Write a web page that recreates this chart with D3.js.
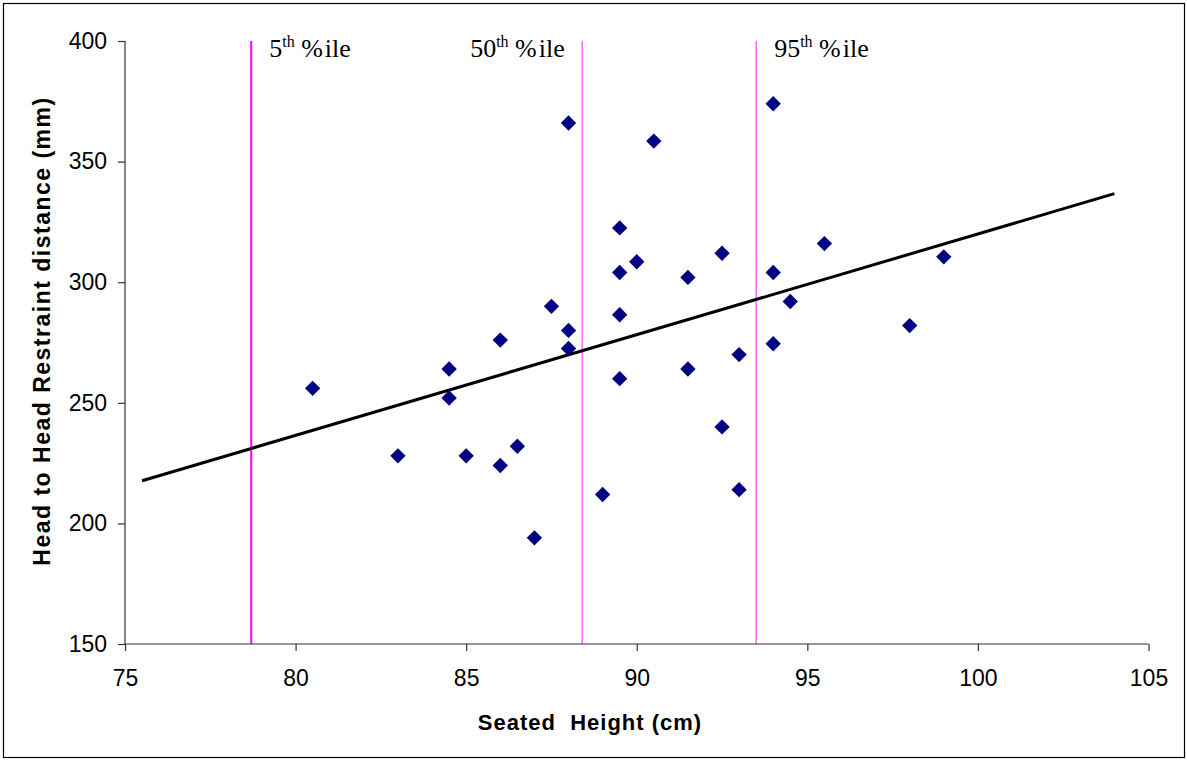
<!DOCTYPE html>
<html>
<head>
<meta charset="utf-8">
<script src="https://cdn.jsdelivr.net/npm/d3@7"></script>
<style>
  body { margin: 0; background: #fff; }
  svg text { font-family: "Liberation Sans", Arial, sans-serif; }
</style>
</head>
<body>
<div id="chart"></div>
<script>
// seated height (cm) vs head to head restraint distance (mm)
var seatedHeight = [80.5, 83, 84.5, 84.5, 85, 86, 86, 86.5, 87, 87.5, 88, 88, 88,
  89, 89.5, 89.5, 89.5, 89.5, 90, 90.5, 91.5, 91.5, 92.5, 92.5, 93, 93,
  94, 94, 94, 94.5, 95.5, 98, 99];
var restraintDist = [256, 228, 264, 252, 228, 276, 224, 232, 194, 290, 366, 280, 272.5,
  212, 322.5, 304, 286.5, 260, 308.5, 358.5, 302, 264, 312, 240, 270, 214,
  374, 304, 274.5, 292, 316, 282, 310.5];

// trend line end points
var trendX = [75.5, 104];
var trendY = [217.7, 336.7];

// percentile markers
var pctNames = ["5", "50", "95"];
var pctValues = [78.7, 88.4, 93.5];

var xTicks = [75, 80, 85, 90, 95, 100, 105];
var yTicks = [150, 200, 250, 300, 350, 400];

var W = 1187, H = 760;
var margin = {top: 41, right: 38, bottom: 116, left: 125};
var width = 1148.5 - margin.left,
    height = 644 - margin.top;

var svg = d3.select("#chart").append("svg")
  .attr("width", W)
  .attr("height", H);

// outer frame
svg.append("rect")
  .attr("x", 3.5).attr("y", 3.5)
  .attr("width", W - 6).attr("height", H - 6)
  .attr("fill", "none")
  .attr("stroke", "#000")
  .attr("stroke-width", 1.2);

var g = svg.append("g")
  .attr("transform", "translate(" + margin.left + "," + margin.top + ")");

var x = d3.scaleLinear().domain([75, 105]).range([0, width]);
var y = d3.scaleLinear().domain([150, 400]).range([height, 0]);

// percentile lines
g.selectAll(".pct")
  .data(pctValues)
  .enter().append("line")
  .attr("x1", function(d) { return x(d); })
  .attr("x2", function(d) { return x(d); })
  .attr("y1", 0)
  .attr("y2", height)
  .attr("stroke", "#ff00ff")
  .attr("stroke-width", function(d, i) { return i == 0 ? 2 : 1.2; })
  .attr("stroke-opacity", function(d, i) { return i == 0 ? 1 : 0.75; });

// percentile labels
var lab = g.selectAll(".pctlab")
  .data(pctNames)
  .enter().append("text")
  .attr("x", function(d, i) { return i == 1 ? x(pctValues[i]) - 112 : x(pctValues[i]) + 18; })
  .attr("y", 16)
  .style("font-family", "'Liberation Serif', 'Times New Roman', serif")
  .style("font-size", "26px")
  .attr("fill", "#000");
lab.append("tspan").text(function(d) { return d; });
lab.append("tspan").attr("dy", -10).style("font-size", "16px").text("th");
lab.append("tspan").attr("dy", 10).text(" %");
lab.append("tspan").attr("dx", 2).text("ile");

// axes
var xAxis = g.append("g")
  .attr("transform", "translate(0," + height + ")")
  .call(d3.axisBottom(x).tickValues(xTicks).tickSize(7).tickPadding(19));
var yAxis = g.append("g")
  .call(d3.axisLeft(y).tickValues(yTicks).tickSize(7).tickPadding(11));

[xAxis, yAxis].forEach(function(a) {
  a.select(".domain").attr("stroke", "#333").attr("stroke-width", 1.2);
  a.selectAll(".tick line").attr("stroke", "#333").attr("stroke-width", 1.2);
  a.selectAll(".tick text").style("font-size", "23px")
    .style("font-family", "'Liberation Sans', Arial, sans-serif").attr("fill", "#000");
});
// remove outer tick caps on the domain path
xAxis.select(".domain").attr("d", "M0,0H" + width);
yAxis.select(".domain").attr("d", "M0," + height + "V0");

// trend line
var line = d3.line()
  .x(function(d) { return x(d[0]); })
  .y(function(d) { return y(d[1]); });
g.append("path")
  .datum(d3.zip(trendX, trendY))
  .attr("d", line)
  .attr("fill", "none")
  .attr("stroke", "#000")
  .attr("stroke-width", 3);

// diamond points
var diamond = d3.symbol().type(d3.symbolSquare).size(118);
g.selectAll(".dot")
  .data(d3.zip(seatedHeight, restraintDist))
  .enter().append("path")
  .attr("d", diamond)
  .attr("transform", function(d) {
    return "translate(" + x(d[0]) + "," + y(d[1]) + ") rotate(45)";
  })
  .attr("fill", "#000080");

// axis titles
svg.append("text")
  .attr("x", 590)
  .attr("y", 730)
  .attr("text-anchor", "middle")
  .style("font-size", "22px")
  .style("font-weight", "bold")
  .style("letter-spacing", "1px")
  .style("white-space", "pre")
  .text("Seated  Height (cm)");

svg.append("text")
  .attr("transform", "translate(50,331) rotate(-90)")
  .attr("text-anchor", "middle")
  .style("font-size", "23px")
  .style("font-weight", "bold")
  .style("letter-spacing", "1.5px")
  .text("Head to Head Restraint distance (mm)");
</script>
</body>
</html>
